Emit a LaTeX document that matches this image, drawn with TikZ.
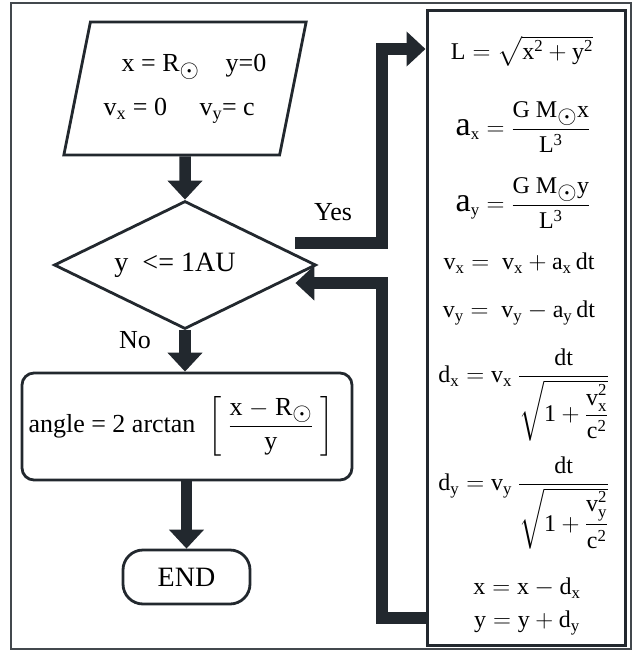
\documentclass[tikz,border=0pt]{standalone}
\usepackage{amsmath}
\usepackage{fontspec}
\setmainfont{Liberation Serif}
\usetikzlibrary{arrows.meta, positioning, shapes.geometric, calc}
\definecolor{inkdark}{RGB}{34,40,46}
\newcommand{\Rsun}{\mathrm{R}_{\textstyle\odot}}
\newcommand{\Msun}{\mathrm{M}_{\textstyle\odot}}

\begin{document}
\begin{tikzpicture}[
    x=1pt, y=-1pt,
    font=\fontsize{24}{28}\selectfont,
    % ── Flowchart shapes ──
    box/.style={draw=inkdark, line width=2.8pt, align=center, inner sep=0pt},
    io/.style={box, trapezium, trapezium left angle=71.7, trapezium right angle=108.3,
               trapezium stretches=true, minimum width=243pt, minimum height=133pt,
               align=left, font=\fontsize{26}{30}\selectfont},
    decision/.style={box, diamond, aspect=2.05, minimum width=262pt, minimum height=128pt,
                     font=\fontsize{28}{32}\selectfont},
    process/.style={box, rectangle, rounded corners=12pt, minimum width=330pt,
                    minimum height=107pt, font=\fontsize{26}{30}\selectfont},
    terminal/.style={box, rectangle, rounded corners=20pt, minimum width=127pt,
                     minimum height=54pt, font=\fontsize{28}{32}\selectfont},
    eq/.style={inner sep=0pt},
    lbl/.style={font=\fontsize{26}{30}\selectfont},
    flow/.style={-{Triangle[length=19pt, width=34pt]}, line width=11.5pt, inkdark}
]
\useasboundingbox (0,0) rectangle (638,651);
\draw[inkdark!85, line width=1.2pt] (11,3) rectangle (631,649);

% ═══ Left column ═══
\node[io]       (start)  at (185,88.5) {\hspace*{18pt}x = $\Rsun$\quad y=0\\[14pt]
                                        $\mathrm{v_x}$ = 0\quad\ $\mathrm{v_y}$= c};
\node[decision] (decide) at (185,265)  {y\ \ <= 1AU\hspace*{20pt}};
\node[process]  (angle)  at (187,426.5)
  {angle = 2 arctan\ \ $\left[\;\dfrac{\mathrm{x\ -\ }\Rsun}{\mathrm{y}}\;\right]$\hspace*{12pt}};
\node[terminal] (stop)   at (186.5,577) {END};

% ═══ Update block ═══
\node[box, line width=3pt, minimum width=198pt, minimum height=635pt] (update) at (526,327.5) {};
\node[eq] (eqL)  at (522,51)  {$\mathrm{L = \sqrt{x^2 + y^2}}$};
\node[eq] (eqax) at (523,127) {{\fontsize{34}{34}\selectfont a}$\mathrm{_x = \dfrac{G\ \Msun x}{L^3}}$};
\node[eq] (eqay) at (523,203) {{\fontsize{34}{34}\selectfont a}$\mathrm{_y = \dfrac{G\ \Msun y}{L^3}}$};
\node[eq] (eqvx) at (519,263) {$\mathrm{v_x = \ v_x + a_x\,dt}$};
\node[eq] (eqvy) at (519,313) {$\mathrm{v_y = \ v_y - a_y\,dt}$};
\node[eq] (eqdx) at (524,395) {$\mathrm{d_x = v_x\ \dfrac{dt}{\sqrt{1+\dfrac{v_x^2}{c^2}}}}$};
\node[eq] (eqdy) at (524,503) {$\mathrm{d_y = v_y\ \dfrac{dt}{\sqrt{1+\dfrac{v_y^2}{c^2}}}}$};
\node[eq] (eqx)  at (527,588) {$\mathrm{x = x - d_x}$};
\node[eq] (eqy)  at (527,623) {$\mathrm{y = y + d_y}$};

% ═══ Main-flow arrows ═══
\draw[flow] (start.south) -- (decide.north);
\draw[flow] (decide.south) -- (decide.south |- angle.north);
\draw[flow] (stop.north |- angle.south) -- (stop.north);

% ═══ Loop ═══
\coordinate (yesbend)  at (382,49);
\coordinate (loopbend) at (382,618);
\draw[flow] ([shift={(-22,-22)}]decide.east) -| (yesbend) -- (yesbend -| update.west);
\draw[flow] (update.west |- loopbend) -- (loopbend) |- ([shift={(-22,18)}]decide.east);

\node[lbl] (yes) at (333,212) {Yes};
\node[lbl] (no)  at (135,340) {No};

\end{tikzpicture}
\end{document}
